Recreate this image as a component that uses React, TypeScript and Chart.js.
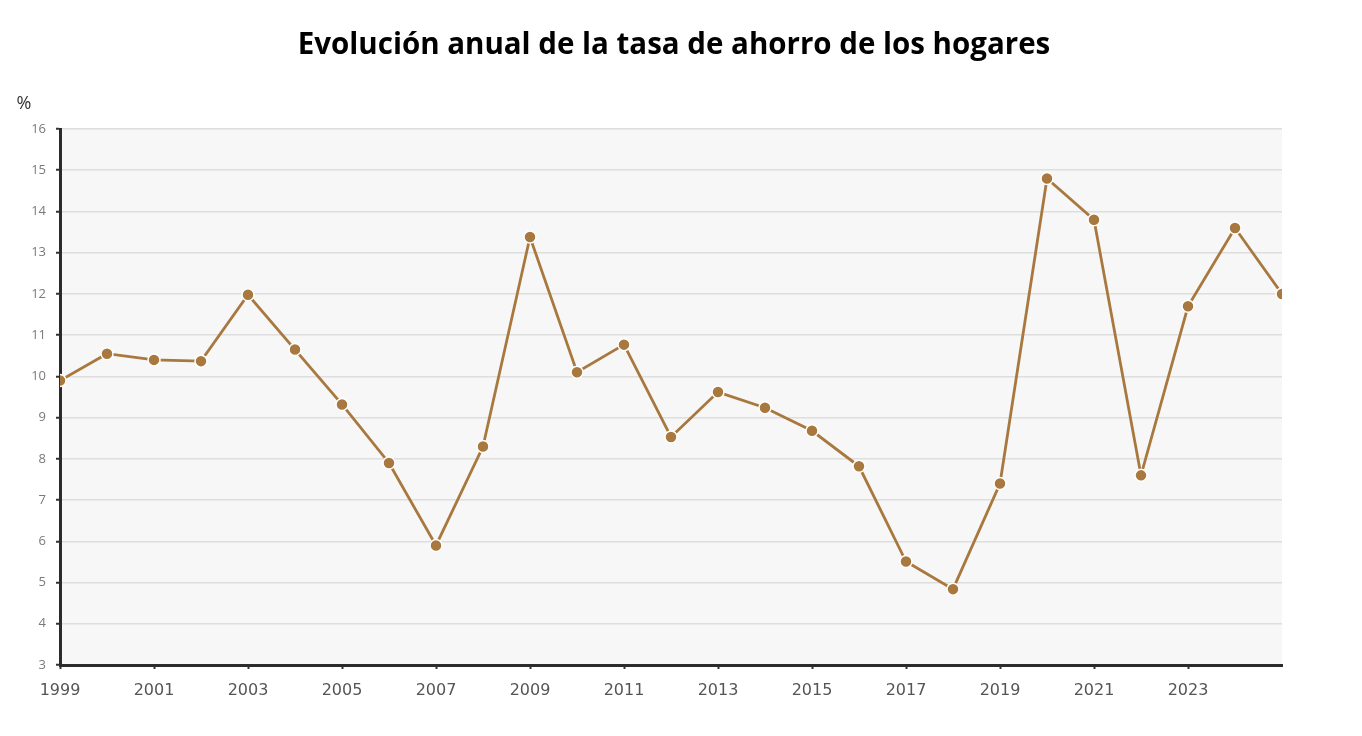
import { useEffect, useRef } from "react";
import { Chart, registerables } from "chart.js";

Chart.register(...registerables);

// Household saving rate, % of gross disposable income
const years = [
  1999, 2000, 2001, 2002, 2003, 2004, 2005, 2006, 2007, 2008, 2009, 2010, 2011, 2012,
  2013, 2014, 2015, 2016, 2017, 2018, 2019, 2020, 2021, 2022, 2023, 2024, 2025,
];
const savingsRate = [
  9.9, 10.55, 10.4, 10.37, 11.98, 10.65, 9.32, 7.9, 5.9, 8.3, 13.38, 10.1, 10.77, 8.53,
  9.62, 9.24, 8.68, 7.82, 5.51, 4.84, 7.4, 14.8, 13.8, 7.6, 11.7, 13.6, 12.0,
];
const xTickYears = [1999, 2001, 2003, 2005, 2007, 2009, 2011, 2013, 2015, 2017, 2019, 2021, 2023];
const yMin = 3;
const yMax = 16;

const titleText = "Evolución anual de la tasa de ahorro de los hogares";
const unitLabel = "%";

const lineColor = "#a8783e";

const decorations = {
  id: "decorations",
  beforeDraw(chart: any) {
    const { ctx, chartArea: a } = chart;
    ctx.save();
    ctx.fillStyle = "#ffffff";
    ctx.fillRect(0, 0, chart.width, chart.height);
    ctx.fillStyle = "#f7f7f8";
    ctx.fillRect(a.left, a.top, a.right - a.left, a.bottom - a.top);
    ctx.restore();
  },
  afterDraw(chart: any) {
    const { ctx } = chart;
    ctx.save();
    ctx.fillStyle = "#000000";
    ctx.textAlign = "center";
    ctx.textBaseline = "alphabetic";
    ctx.font = "bold 29.5px 'Open Sans'";
    ctx.fillText(titleText, 674, 54);
    ctx.fillStyle = "#333333";
    ctx.textBaseline = "middle";
    ctx.font = "18px 'Open Sans'";
    ctx.fillText(unitLabel, 24, 104);
    ctx.restore();
  },
};

export default function App() {
  const canvasRef = useRef<HTMLCanvasElement | null>(null);

  useEffect(() => {
    const canvas = canvasRef.current;
    if (!canvas) return;
    const chart = new Chart(canvas, {
      type: "line",
      data: {
        datasets: [
          {
            data: years.map((y, i) => ({ x: y, y: savingsRate[i] })),
            borderColor: lineColor,
            borderWidth: 2.8,
            backgroundColor: lineColor,
            pointBackgroundColor: lineColor,
            pointBorderColor: "#ffffff",
            pointBorderWidth: 1.5,
            pointRadius: 6,
            tension: 0,
          },
        ],
      },
      options: {
        responsive: false,
        animation: false,
        events: [],
        layout: { padding: { top: 129, right: 80, left: 0, bottom: 0 } },
        plugins: {
          legend: { display: false },
          title: { display: false },
          tooltip: { enabled: false },
        },
        scales: {
          x: {
            type: "linear",
            min: years[0],
            max: years[years.length - 1],
            afterBuildTicks(scale: any) {
              scale.ticks = xTickYears.map((v) => ({ value: v }));
            },
            afterFit(scale: any) {
              scale.height = 71;
            },
            grid: {
              display: true,
              drawOnChartArea: false,
              drawTicks: true,
              tickLength: 4,
              tickColor: "#333333",
              tickWidth: 2,
            },
            border: { display: true, color: "#2b2b2b", width: 3 },
            ticks: {
              autoSkip: false,
              maxRotation: 0,
              padding: 12,
              color: "#555555",
              font: { family: "'DejaVu Sans'", size: 16 },
              callback: (v: any) => String(v),
            },
          },
          y: {
            min: yMin,
            max: yMax,
            afterFit(scale: any) {
              scale.width = 60;
            },
            grid: {
              color: "#dedede",
              lineWidth: 1.5,
              tickLength: 4,
              tickColor: "#333333",
              tickWidth: 2,
            },
            border: { display: true, color: "#2b2b2b", width: 3 },
            ticks: {
              stepSize: 1,
              padding: 10,
              color: "#7a7a7a",
              font: { family: "'Open Sans'", size: 13 },
            },
          },
        },
      },
      plugins: [decorations],
    });
    return () => chart.destroy();
  }, []);

  return (
    <div style={{ position: "fixed", left: 0, top: 0, width: 1362, height: 736, background: "#fff" }}>
      <canvas ref={canvasRef} width={1362} height={736} style={{ display: "block" }} />
    </div>
  );
}
